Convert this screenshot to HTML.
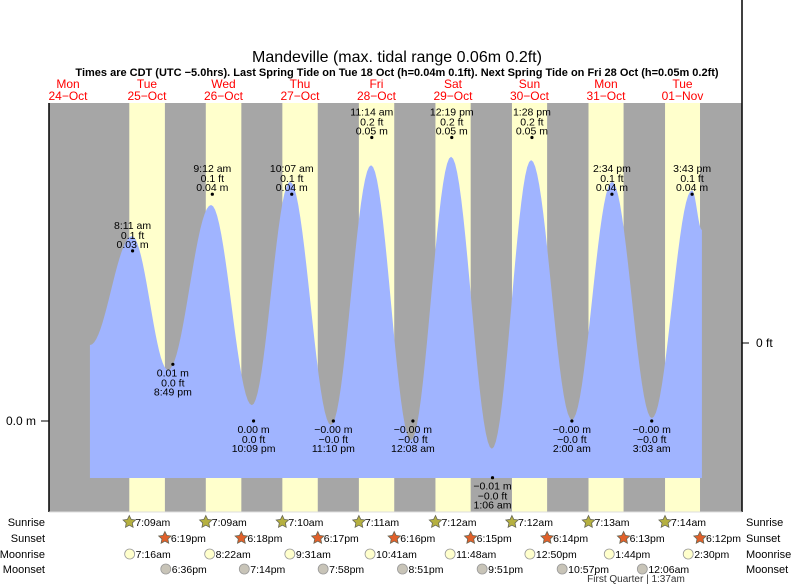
<!DOCTYPE html>
<html><head><meta charset="utf-8"><style>
body{margin:0;background:#fff}
svg{display:block;font-family:"Liberation Sans",sans-serif}
</style></head><body>
<svg id="c" width="793" height="586"></svg>
<script>
// Data
const curveTimes=[18.8,32.0,43.3,56.8,69.6,81.6,94.4,107.0,119.5,132.1,144.9,157.2,170.0,182.6,195.1,207.7,210.8];
const curveHeights=[0.0134,0.0326,0.0090,0.0381,0.0028,0.0422,-0.0007,0.0451,-0.0034,0.0466,-0.0049,0.0460,0.0002,0.0422,0.0005,0.0407,0.0337];
const highTimes=[32.18,57.2,82.12,107.23,132.32,157.47,182.57,207.72];
const highMeters=[0.03,0.04,0.04,0.05,0.05,0.05,0.04,0.04];
const highLabels=[["8:11 am","0.1 ft","0.03 m"],["9:12 am","0.1 ft","0.04 m"],["10:07 am","0.1 ft","0.04 m"],["11:14 am","0.2 ft","0.05 m"],["12:19 pm","0.2 ft","0.05 m"],["1:28 pm","0.2 ft","0.05 m"],["2:34 pm","0.1 ft","0.04 m"],["3:43 pm","0.1 ft","0.04 m"]];
const lowTimes=[44.82,70.15,95.17,120.13,145.1,170.0,195.05];
const lowMeters=[0.01,0.0,0.0,0.0,-0.01,0.0,0.0];
const lowLabels=[["0.01 m","0.0 ft","8:49 pm"],["0.00 m","0.0 ft","10:09 pm"],["\u22120.00 m","\u22120.0 ft","11:10 pm"],["\u22120.00 m","\u22120.0 ft","12:08 am"],["\u22120.01 m","\u22120.0 ft","1:06 am"],["\u22120.00 m","\u22120.0 ft","2:00 am"],["\u22120.00 m","\u22120.0 ft","3:03 am"]];
const dayNames=["Mon","Tue","Wed","Thu","Fri","Sat","Sun","Mon","Tue"];
const dayDates=["24\u2212Oct","25\u2212Oct","26\u2212Oct","27\u2212Oct","28\u2212Oct","29\u2212Oct","30\u2212Oct","31\u2212Oct","01\u2212Nov"];
const sunrise=[31.15,55.15,79.17,103.18,127.2,151.2,175.22,199.23];
const sunriseLbl=["7:09am","7:09am","7:10am","7:11am","7:12am","7:12am","7:13am","7:14am"];
const sunset=[42.32,66.3,90.28,114.27,138.25,162.23,186.22,210.2];
const sunsetLbl=["6:19pm","6:18pm","6:17pm","6:16pm","6:15pm","6:14pm","6:13pm","6:12pm"];
const moonrise=[31.27,56.37,81.52,106.68,131.8,156.83,181.73,206.5];
const moonriseLbl=["7:16am","8:22am","9:31am","10:41am","11:48am","12:50pm","1:44pm","2:30pm"];
const moonset=[42.6,67.23,91.97,116.85,141.85,166.95,192.1];
const moonsetLbl=["6:36pm","7:14pm","7:58pm","8:51pm","9:51pm","10:57pm","12:06am"];

const X=t=>30+t*76.5/24;
const Y=h=>421-h*5670;
const PL=49,PR=742,PT=103,PB=512,FILLB=478;
const svg=document.getElementById('c');
const NS="http://www.w3.org/2000/svg";
function el(tag,attrs,parent){const e=document.createElementNS(NS,tag);for(const k in attrs)e.setAttribute(k,attrs[k]);(parent||svg).appendChild(e);return e;}
function txt(s,x,y,size,anchor,fill,weight){const e=el('text',{x:x,y:y,'font-size':size,'text-anchor':anchor||'middle',fill:fill||'#000'});if(weight)e.setAttribute('font-weight',weight);e.textContent=s;return e;}

let t=txt("Mandeville (max. tidal range 0.06m 0.2ft)",397,62,16);

t=txt("Times are CDT (UTC \u22125.0hrs). Last Spring Tide on Tue 18 Oct (h=0.04m 0.1ft). Next Spring Tide on Fri 28 Oct (h=0.05m 0.2ft)",397,76,11,'middle','#000','bold');


let bg=el('rect',{x:PL,y:PT,width:PR-PL,height:PB-PT,fill:'#a6a6a6'});

for(let i=0;i<sunrise.length;i++){
  const r=el('rect',{x:X(sunrise[i]),y:PT,width:X(sunset[i])-X(sunrise[i]),height:PB-PT,fill:'#ffffcc'});
  
}
let d="M"+X(curveTimes[0])+","+FILLB+" L"+X(curveTimes[0])+","+Y(curveHeights[0]);
for(let i=1;i<curveTimes.length;i++){
  const t0=curveTimes[i-1],t1=curveTimes[i],h0=curveHeights[i-1],h1=curveHeights[i];
  for(let s=1;s<=20;s++){const f=s/20;const h=h0+(h1-h0)*(1-Math.cos(Math.PI*f))/2;d+=" L"+X(t0+(t1-t0)*f).toFixed(2)+","+Y(h).toFixed(2);}
}
d+=" L"+X(curveTimes[curveTimes.length-1])+","+FILLB+" Z";
const p=el('path',{d:d,fill:'#a0b4ff'});


let a=el('line',{x1:PL,y1:PT,x2:PL,y2:PB,stroke:'#000','stroke-width':1.5});

a=el('line',{x1:PR,y1:0,x2:PR,y2:PB,stroke:'#000','stroke-width':1.5});

el('line',{x1:PL,y1:PB,x2:PR,y2:PB,stroke:'#ddd','stroke-width':1});
el('line',{x1:41,y1:Y(0),x2:PL,y2:Y(0),stroke:'#000'});
t=txt("0.0 m",36,425,12,'end');
el('line',{x1:PR,y1:343,x2:PR+7,y2:343,stroke:'#000'});
t=txt("0 ft",756,347,12,'start');

for(let i=0;i<dayNames.length;i++){
  const cx=i===0?68:X(i*24+12.7);
  t=txt(dayNames[i],cx,88,12,'middle','#ff0000');
  t=txt(dayDates[i],cx,100,12,'middle','#ff0000');
}

for(let i=0;i<highTimes.length;i++){
  const x=X(highTimes[i]),y=Y(highMeters[i]);
  const c=el('circle',{cx:x,cy:y,r:1.6,fill:'#000'});
  const L=highLabels[i];
  t=txt(L[0],x,y-22,10.5);
  t=txt(L[1],x,y-12,10.5);
  t=txt(L[2],x,y-3,10.5);
}
for(let i=0;i<lowTimes.length;i++){
  const x=X(lowTimes[i]),y=Y(lowMeters[i]);
  const c=el('circle',{cx:x,cy:y,r:1.6,fill:'#000'});
  const L=lowLabels[i];
  t=txt(L[0],x,y+12,10.5);
  t=txt(L[1],x,y+22,10.5);
  t=txt(L[2],x,y+31,10.5);
}

const rowY=[522,538,554,569];
const rowNames=["Sunrise","Sunset","Moonrise","Moonset"];
for(let r=0;r<4;r++){
  t=txt(rowNames[r],45,rowY[r]+4,11,'end');
  t=txt(rowNames[r],746,rowY[r]+4,11,'start');
}
function star(cx,cy,fill){
  let pts=[];for(let k=0;k<10;k++){const ang=-Math.PI/2+k*Math.PI/5;const rr=k%2?3.2:6.5;pts.push((cx+rr*Math.cos(ang)).toFixed(1)+","+(cy+rr*Math.sin(ang)).toFixed(1));}
  return el('polygon',{points:pts.join(" "),fill:fill,stroke:'#665','stroke-width':0.8});
}
function rowEvents(times,lbls,y,kind){
  for(let i=0;i<times.length;i++){
    const x=X(times[i]);let ic;
    if(kind==='sunrise')ic=star(x,y,'#b5b040');
    else if(kind==='sunset')ic=star(x,y,'#e0602a');
    else ic=el('circle',{cx:x,cy:y,r:5,fill:kind==='moonrise'?'#ffffcc':'#c8c4b8',stroke:'#999','stroke-width':0.8});
    
    t=txt(lbls[i],x+6,y+4,10.5,'start');
  }
}
rowEvents(sunrise,sunriseLbl,rowY[0],'sunrise');
rowEvents(sunset,sunsetLbl,rowY[1],'sunset');
rowEvents(moonrise,moonriseLbl,rowY[2],'moonrise');
rowEvents(moonset,moonsetLbl,rowY[3],'moonset');
t=txt("First Quarter | 1:37am",636,582,10,'middle','#333');
</script>
</body></html>
